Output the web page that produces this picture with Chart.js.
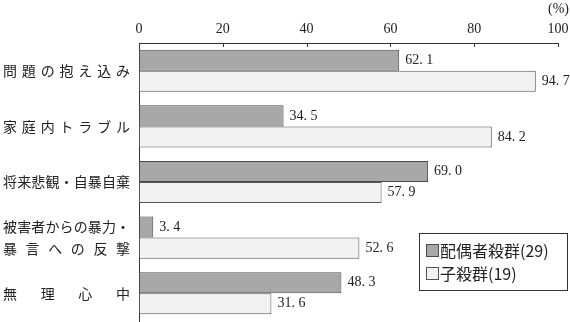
<!DOCTYPE html>
<html>
<head>
<meta charset="utf-8">
<style>
  html, body { margin: 0; padding: 0; background: #fff; }
  #wrap { width: 570px; height: 322px; }
</style>
</head>
<body>
<div id="wrap">
  <canvas id="myChart" width="570" height="322"></canvas>
</div>
<script src="https://cdn.jsdelivr.net/npm/chart.js"></script>
<script>

const categories = [
  ['問題の抱え込み'],
  ['家庭内トラブル'],
  ['将来悲観・自暴自棄'],
  ['被害者からの暴力・', '暴言への反撃'],
  ['無理心中']
];
const spouseLabel = '配偶者殺群(29)';
const childLabel = '子殺群(19)';
const spouseValues = [62.1, 34.5, 69.0, 3.4, 48.3];
const childValues = [94.7, 84.2, 57.9, 52.6, 31.6];
const xTicks = [0, 20, 40, 60, 80, 100];
const unitLabel = '(%)';

const serif = '"Liberation Serif", "Noto Sans CJK JP", serif';
const cjk = '"Noto Sans CJK JP", sans-serif';
const ink = '#222';

// category labels, stretched across the label column like the original
const labelPlugin = {
  id: 'catLabels',
  afterDraw(chart) {
    const ctx = chart.ctx;
    const y = chart.scales.y;
    const left = 3, right = 130;
    ctx.save();
    ctx.font = '14px ' + cjk;
    ctx.fillStyle = ink;
    ctx.textBaseline = 'middle';
    ctx.textAlign = 'left';
    categories.forEach(function(lines, i) {
      const cy = y.getPixelForTick(i);
      lines.forEach(function(line, j) {
        const ly = cy + (j - (lines.length - 1) / 2) * 22;
        const chars = Array.from(line);
        const widths = chars.map(function(c) { return ctx.measureText(c).width; });
        const total = widths.reduce(function(a, b) { return a + b; }, 0);
        const gap = chars.length > 1 ? (right - left - total) / (chars.length - 1) : 0;
        let x = left;
        chars.forEach(function(c, k) {
          ctx.fillText(c, x, ly);
          x += widths[k] + gap;
        });
      });
    });
    ctx.restore();
  }
};

// value labels, tick marks, unit and legend box
const extrasPlugin = {
  id: 'extras',
  afterDraw(chart) {
    const ctx = chart.ctx;
    const xs = chart.scales.x;
    const area = chart.chartArea;
    ctx.save();

    // ticks pointing into the plot
    ctx.strokeStyle = '#333';
    ctx.lineWidth = 1;
    xTicks.forEach(function(v) {
      const px = Math.round(xs.getPixelForValue(v)) + 0.5;
      ctx.beginPath();
      ctx.moveTo(px, area.top);
      ctx.lineTo(px, area.top + 4);
      ctx.stroke();
    });

    // values at bar ends
    ctx.font = '14px ' + serif;
    ctx.fillStyle = ink;
    ctx.textBaseline = 'middle';
    ctx.textAlign = 'left';
    chart.data.datasets.forEach(function(ds, di) {
      chart.getDatasetMeta(di).data.forEach(function(bar, i) {
        const txt = ds.data[i].toFixed(1).replace('.', '. ');
        ctx.fillText(txt, bar.x + 6, bar.y);
      });
    });

    // unit
    ctx.font = '14px ' + serif;
    ctx.textAlign = 'right';
    ctx.fillText(unitLabel, 569, 9);

    // legend
    const bx = 419.5, by = 233.5, bw = 148, bh = 57;
    ctx.strokeStyle = '#333';
    ctx.strokeRect(bx, by, bw, bh);
    ctx.font = '16px ' + cjk;
    ctx.textAlign = 'left';
    chart.data.datasets.forEach(function(ds, di) {
      const sy = 244.5 + di * 23;
      ctx.fillStyle = ds.backgroundColor;
      ctx.fillRect(426.5, sy, 12, 12);
      ctx.strokeStyle = ds.borderColor;
      ctx.strokeRect(426.5, sy, 12, 12);
      ctx.fillStyle = ink;
      ctx.fillText(ds.label, 440, sy + 6);
    });
    ctx.restore();
  }
};

const config = {
  type: 'bar',
  data: {
    labels: categories,
    datasets: [
      {
        label: spouseLabel,
        data: spouseValues,
        backgroundColor: '#a8a8a8',
        borderColor: '#4a4a4a',
        borderWidth: 1,
        borderSkipped: false
      },
      {
        label: childLabel,
        data: childValues,
        backgroundColor: '#f2f2f2',
        borderColor: '#555',
        borderWidth: 1,
        borderSkipped: false
      }
    ]
  },
  options: {
    indexAxis: 'y',
    responsive: false,
    animation: false,
    categoryPercentage: 0.757,
    barPercentage: 1,
    layout: { padding: { left: 0, right: 0, top: 0, bottom: 1 } },
    plugins: {
      legend: { display: false },
      tooltip: { enabled: false }
    },
    scales: {
      x: {
        position: 'top',
        min: 0,
        max: 100,
        afterBuildTicks: function(scale) {
          scale.ticks = xTicks.map(function(v) { return { value: v }; });
        },
        afterFit: function(scale) {
          scale.height = 43;
          scale.paddingRight = 12;
        },
        grid: { display: false, drawTicks: false },
        border: { display: true, color: '#333', width: 1 },
        ticks: {
          padding: 5,
          color: ink,
          font: { family: serif, size: 14 }
        }
      },
      y: {
        afterFit: function(scale) { scale.width = 139; },
        grid: { display: false, drawTicks: false },
        border: { display: true, color: '#333', width: 1 },
        ticks: { display: false }
      }
    }
  },
  plugins: [labelPlugin, extrasPlugin]
};

new Chart('myChart', config);

</script>
</body>
</html>
